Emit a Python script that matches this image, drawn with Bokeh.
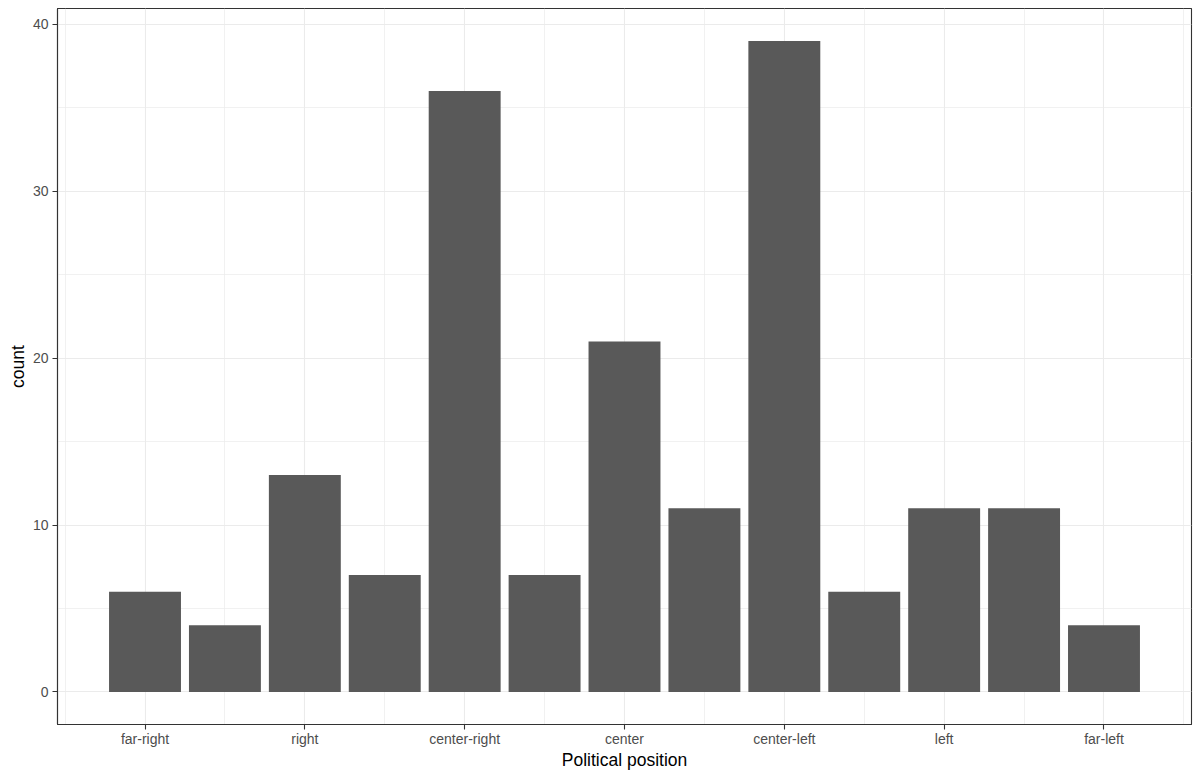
from bokeh.plotting import figure
from bokeh.models import Range1d, FixedTicker, ColumnDataSource
from bokeh.embed import file_html
from bokeh.resources import INLINE

# data
positions = list(range(1, 14))
counts = [6, 4, 13, 7, 36, 7, 21, 11, 39, 6, 11, 11, 4]
tick_positions = [1, 3, 5, 7, 9, 11, 13]
tick_labels = ["far-right", "right", "center-right", "center", "center-left", "left", "far-left"]
y_ticks = [0, 10, 20, 30, 40]

FONT = "Liberation Sans"

src = ColumnDataSource(dict(x=positions, top=counts))

p = figure(width=1200, height=780, frame_width=1134, frame_height=716,
           min_border_left=57, min_border_right=9, min_border_top=8, min_border_bottom=56,
           x_range=Range1d(-0.095, 14.095), y_range=Range1d(-1.95, 40.95),
           output_backend="svg", toolbar_location=None)

p.vbar(x="x", top="top", bottom=0, width=0.9, source=src, fill_color="#595959", line_color=None)

p.background_fill_color = "white"
p.border_fill_color = "white"
p.outline_line_color = "#333333"
p.outline_line_width = 1.1

xt = FixedTicker(ticks=tick_positions, minor_ticks=[0, 2, 4, 6, 8, 10, 12, 14])
yt = FixedTicker(ticks=y_ticks, minor_ticks=[5, 15, 25, 35])
p.xaxis.ticker = xt
p.yaxis.ticker = yt
p.xgrid.ticker = xt
p.ygrid.ticker = yt
p.xaxis.major_label_overrides = {t: l for t, l in zip(tick_positions, tick_labels)}

for g in (p.xgrid, p.ygrid):
    g.grid_line_color = "#ebebeb"
    g.grid_line_width = 1.1
    g.minor_grid_line_color = "#ebebeb"
    g.minor_grid_line_width = 0.7

for ax in (p.xaxis, p.yaxis):
    ax.axis_line_color = "#333333"
    ax.axis_line_width = 1.1
    ax.major_tick_line_color = "#333333"
    ax.major_tick_line_width = 1.1
    ax.major_tick_in = 0
    ax.major_tick_out = 5
    ax.minor_tick_line_color = None
    ax.major_label_text_font = FONT
    ax.major_label_text_font_size = "14px"
    ax.major_label_text_color = "#4d4d4d"
    ax.axis_label_text_font = FONT
    ax.axis_label_text_font_size = "17.5px"
    ax.axis_label_text_font_style = "normal"
    ax.axis_label_text_color = "black"

p.xaxis.axis_label = "Political position"
p.yaxis.axis_label = "count"
p.xaxis.major_label_standoff = 1
p.yaxis.major_label_standoff = 4
p.xaxis.axis_label_standoff = 0
p.yaxis.axis_label_standoff = 2

open("out.html", "w").write(file_html(p, INLINE))
